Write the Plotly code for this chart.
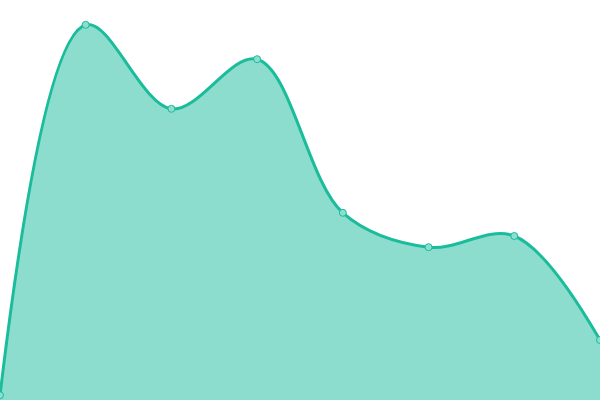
import plotly.graph_objects as go

categories = ["A", "B", "C", "D", "E", "F", "G", "H"]
values = [1.2, 93.8, 72.8, 85.2, 46.8, 38.2, 41.0, 15.0]

fig = go.Figure()
fig.add_trace(go.Scatter(
    x=categories,
    y=values,
    mode="lines+markers",
    line=dict(color="#1abc9c", width=3, shape="spline", smoothing=1),
    marker=dict(size=7, color="#8ddece", line=dict(color="#1abc9c", width=1)),
    fill="tozeroy",
    fillcolor="rgba(26,188,156,0.5)",
    hoverinfo="x+y",
))
fig.update_layout(
    width=600, height=400,
    margin=dict(l=0, r=0, t=0, b=0),
    paper_bgcolor="white", plot_bgcolor="white",
    showlegend=False,
)
fig.update_xaxes(visible=False, range=[0, 7])
fig.update_yaxes(visible=False, range=[0, 100])
# drop the browser's default body margin so the plot sits at the page corner
fig.write_html("out.html", config={"displayModeBar": False},
               post_script="document.body.style.margin='0';")
